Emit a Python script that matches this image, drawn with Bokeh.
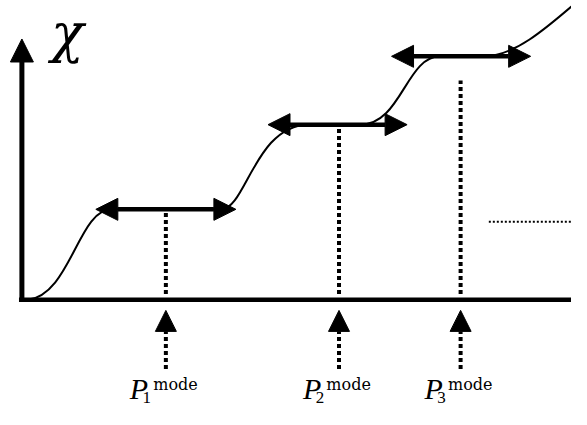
from bokeh.plotting import figure
from bokeh.models import Range1d, Arrow, NormalHead, ColumnDataSource
from bokeh.core.properties import value
from bokeh.embed import file_html
from bokeh.resources import INLINE

# ---- data (diagram coordinates, origin at the axes' corner) ----
plateau_y = [94, 182, 253]
plateau_start = [92, 295, 430]
plateau_end = [205, 348, 475]
arrow_left = [76, 253, 380]
arrow_right = [220, 396, 523]
mode_x = [148, 326, 451]
mode_line_top = [94, 182, 228]
mode_line_bottom = [6, 6, 6]
subscripts = ["1", "2", "3"]
superscript = "mode"

# S-shaped transitions between plateaus (cubic Bezier pieces)
bz_x0 = [6, 205, 348, 475]
bz_y0 = [0, 94, 182, 253]
bz_x1 = [92, 295, 430, 580]
bz_y1 = [94, 182, 253, 318]
bz_cx0 = [50, 230, 390, 505]
bz_cy0 = [5, 94, 182, 253]
bz_cx1 = [58, 240, 395, 535]
bz_cy1 = [94, 182, 253, 278]

y_axis_top = 271
x_axis_end = 600
trend_x = [480, 570]
trend_y = [81, 81]

p = figure(width=571, height=409, x_range=Range1d(-22, 565), y_range=Range1d(-114, 311),
           output_backend="svg", toolbar_location=None, min_border=0,
           x_axis_type=None, y_axis_type=None)
p.grid.visible = False
p.outline_line_color = None
p.background_fill_color = "white"

# axes
p.segment(x0=[-3], y0=[0], x1=[x_axis_end], y1=[0], line_color="black", line_width=4.5)
p.add_layout(Arrow(x_start=0, y_start=-2, x_end=0, y_end=y_axis_top, line_width=5,
                   line_color="black",
                   end=NormalHead(size=23, fill_color="black", line_color="black", line_width=1)))

# curve
p.bezier(x0=bz_x0, y0=bz_y0, x1=bz_x1, y1=bz_y1, cx0=bz_cx0, cy0=bz_cy0,
         cx1=bz_cx1, cy1=bz_cy1, line_color="black", line_width=2)
p.segment(x0=plateau_start, y0=plateau_y, x1=plateau_end, y1=plateau_y,
          line_color="black", line_width=2)

# vertical dotted lines at the modes
p.segment(x0=mode_x, y0=mode_line_bottom, x1=mode_x, y1=mode_line_top,
          line_color="black", line_width=4, line_dash="4 3")

# thin dotted trend line
p.line(x=trend_x, y=trend_y, line_color="black", line_width=2, line_dash="2 2")

# double-headed plateau arrows
dsrc = ColumnDataSource(dict(xs=arrow_left, xe=arrow_right, y=plateau_y))
p.add_layout(Arrow(x_start="xs", y_start="y", x_end="xe", y_end="y", source=dsrc,
                   line_color="black", line_width=4.5,
                   start=NormalHead(size=22, fill_color="black", line_color="black", line_width=1),
                   end=NormalHead(size=22, fill_color="black", line_color="black", line_width=1)))

# dotted arrows from the labels
usrc = ColumnDataSource(dict(x=mode_x, y0=[-72] * 3, y1=[-11] * 3))
p.add_layout(Arrow(x_start="x", y_start="y0", x_end="x", y_end="y1", source=usrc,
                   line_color="black", line_width=4, line_dash="4 3",
                   end=NormalHead(size=21, fill_color="black", line_color="black", line_width=1)))

# labels (vertically centred on their em box)
p.text(x=[m - 37 for m in mode_x], y=[-92.5] * 3, text=["P"] * 3,
       text_font=value("Liberation Serif"), text_font_style="italic",
       text_font_size="30px", text_baseline="middle", text_align="left", text_color="black")
p.text(x=[m - 13 for m in mode_x], y=[-88.5] * 3, text=[superscript] * 3,
       text_font=value("DejaVu Serif"), text_font_size="16px",
       text_baseline="middle", text_align="left", text_color="black")
p.text(x=[m - 24 for m in mode_x], y=[-102] * 3, text=subscripts,
       text_font=value("Liberation Serif"), text_font_size="17px",
       text_baseline="middle", text_align="left", text_color="black")
p.text(x=[30], y=[277], text=["χ"],
       text_font=value("DejaVu Serif"), text_font_style="italic",
       text_font_size="54px", text_baseline="middle", text_align="left", text_color="black")

open("out.html", "w").write(file_html(p, INLINE))
